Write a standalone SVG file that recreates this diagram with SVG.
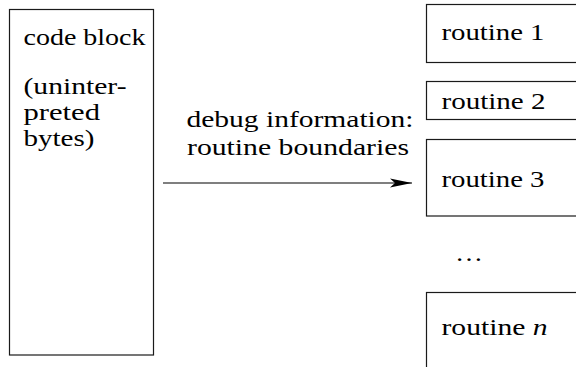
<svg xmlns="http://www.w3.org/2000/svg" width="576" height="367" viewBox="0 0 576 367">
  <style>
    .box { fill: #ffffff; stroke: #1a1a1a; stroke-width: 1.2; }
    .lbl { font-family: "Liberation Serif", "DejaVu Serif", serif; font-size: 24px; fill: #000000; }
    .edge { fill: none; stroke: #000000; stroke-width: 1.2; }
  </style>
  <defs>
    <marker id="head" markerUnits="userSpaceOnUse" markerWidth="24" markerHeight="12" refX="22" refY="5" orient="auto">
      <path d="M0,0.6 L22,5 L0,9.4 L5,5 Z" fill="#000000"/>
    </marker>
  </defs>
  <rect width="576" height="367" fill="#ffffff"/>

  <!-- source block -->
  <g id="code-block">
    <rect class="box" x="9.5" y="9.5" width="144" height="345.5"/>
    <text class="lbl" x="23.5" y="45" textLength="122" lengthAdjust="spacingAndGlyphs">code block</text>
    <text class="lbl" x="23.5" y="94" textLength="103" lengthAdjust="spacingAndGlyphs">(uninter-</text>
    <text class="lbl" x="23.5" y="120" textLength="76.5" lengthAdjust="spacingAndGlyphs">preted</text>
    <text class="lbl" x="23.5" y="146" textLength="71" lengthAdjust="spacingAndGlyphs">bytes)</text>
  </g>

  <!-- connector -->
  <g id="connectors">
    <line class="edge" x1="163" y1="183" x2="412" y2="183" marker-end="url(#head)"/>
    <text class="lbl" x="186.5" y="127" textLength="227" lengthAdjust="spacingAndGlyphs">debug information:</text>
    <text class="lbl" x="187" y="155" textLength="222" lengthAdjust="spacingAndGlyphs">routine boundaries</text>
  </g>

  <!-- routines -->
  <g id="routine-1">
    <rect class="box" x="426.5" y="4.5" width="200" height="58"/>
    <text class="lbl" x="441.5" y="40" textLength="103" lengthAdjust="spacingAndGlyphs">routine 1</text>
  </g>
  <g id="routine-2">
    <rect class="box" x="426.5" y="81.5" width="200" height="38"/>
    <text class="lbl" x="441.5" y="108.5" textLength="104" lengthAdjust="spacingAndGlyphs">routine 2</text>
  </g>
  <g id="routine-3">
    <rect class="box" x="426.5" y="139.5" width="200" height="76.5"/>
    <text class="lbl" x="441.5" y="187" textLength="103" lengthAdjust="spacingAndGlyphs">routine 3</text>
  </g>
  <g id="ellipsis">
    <text class="lbl" x="455" y="261" textLength="28" lengthAdjust="spacingAndGlyphs">…</text>
  </g>
  <g id="routine-n">
    <rect class="box" x="426.5" y="292.5" width="200" height="100"/>
    <text class="lbl" x="441.5" y="335" textLength="106" lengthAdjust="spacingAndGlyphs">routine <tspan font-style="italic">n</tspan></text>
  </g>
</svg>
